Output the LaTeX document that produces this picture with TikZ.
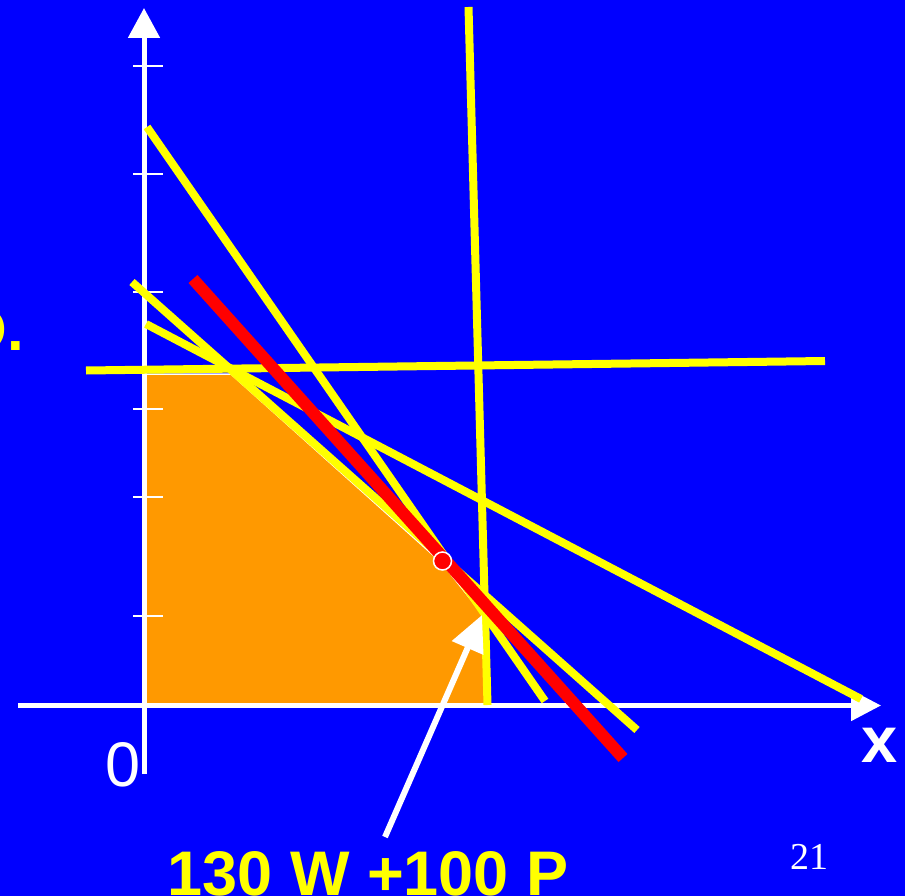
\documentclass[tikz,border=0pt]{standalone}
\usepackage{fontspec}
\setmainfont{Liberation Sans}
\newfontfamily\seriffont{Liberation Serif}
\usetikzlibrary{arrows.meta}
\definecolor{bgblue}{RGB}{0,0,255}
\definecolor{ylw}{RGB}{255,255,0}
\definecolor{org}{RGB}{255,153,0}
\begin{document}
\begin{tikzpicture}[x=1pt,y=-1pt,
  axisline/.style={white,line width=5pt},
  tickline/.style={white,line width=2pt},
  constraint/.style={ylw,line width=8pt},
  objective/.style={red,line width=12pt},
  pointer/.style={white,line width=6pt,-{Triangle[length=36pt,width=33pt]}},
  lbl/.style={inner sep=0pt,outer sep=0pt}]
\useasboundingbox (0,0) rectangle (905,896);
\fill[bgblue] (0,0) rectangle (905,896);
% feasible region
\filldraw[fill=org,draw=white,line width=1.5pt]
  (146,374) -- (231,374) -- (442,563) -- (484,616) -- (490,706) -- (146,706) -- cycle;
% axes
\coordinate (xs) at (18,705.5);
\coordinate (xe) at (881,705.5);
\coordinate (ys) at (144,774);
\coordinate (ye) at (144,8);
\draw[axisline,-{Triangle[length=30pt,width=30pt]}] (xs) -- (xe);
\draw[axisline,-{Triangle[length=30pt,width=31pt]}] (ys) -- (ye);
% ticks
\foreach \ty in {66,174,292,409,497,616}
  \draw[tickline] (133,\ty) -- (163,\ty);
% constraint lines
\coordinate (a1) at (468.5,7);   \coordinate (a2) at (487.5,705);
\coordinate (b1) at (86,370.5);  \coordinate (b2) at (825,361);
\coordinate (c1) at (147,127);   \coordinate (c2) at (545,701);
\coordinate (d1) at (132,282);   \coordinate (d2) at (637,730);
\coordinate (e1) at (146,324);   \coordinate (e2) at (861,699);
\draw[constraint] (a1) -- (a2);
\draw[constraint] (b1) -- (b2);
\draw[constraint] (c1) -- (c2);
\draw[constraint] (d1) -- (d2);
\draw[constraint] (e1) -- (e2);
% objective line
\coordinate (r1) at (193,279);
\coordinate (r2) at (623,758);
\draw[objective] (r1) -- (r2);
% optimum
\filldraw[fill=red,draw=white,line width=1.5pt] (442.5,561) circle[radius=9];
% pointer
\coordinate (p1) at (385,837);
\coordinate (p2) at (482,615);
\draw[pointer] (p1) -- (p2);
% labels
\node[lbl,ylw,font=\bfseries\fontsize{63}{63}\selectfont,anchor=base] (obj) at (368,895) {130 W +100 P};
\node[lbl,white,font=\fontsize{63}{63}\selectfont,anchor=base] (zero) at (123,786) {0};
\node[lbl,white,font=\bfseries\fontsize{65}{65}\selectfont,anchor=base] (xl) at (880,762) {x};
\node[lbl,white,font=\seriffont\fontsize{38}{38}\selectfont,anchor=base] (pg) at (809,869) {21};
\node[lbl,ylw,font=\bfseries\fontsize{60}{60}\selectfont,anchor=base east] (cut) at (24,350) {O.};
\end{tikzpicture}
\end{document}
